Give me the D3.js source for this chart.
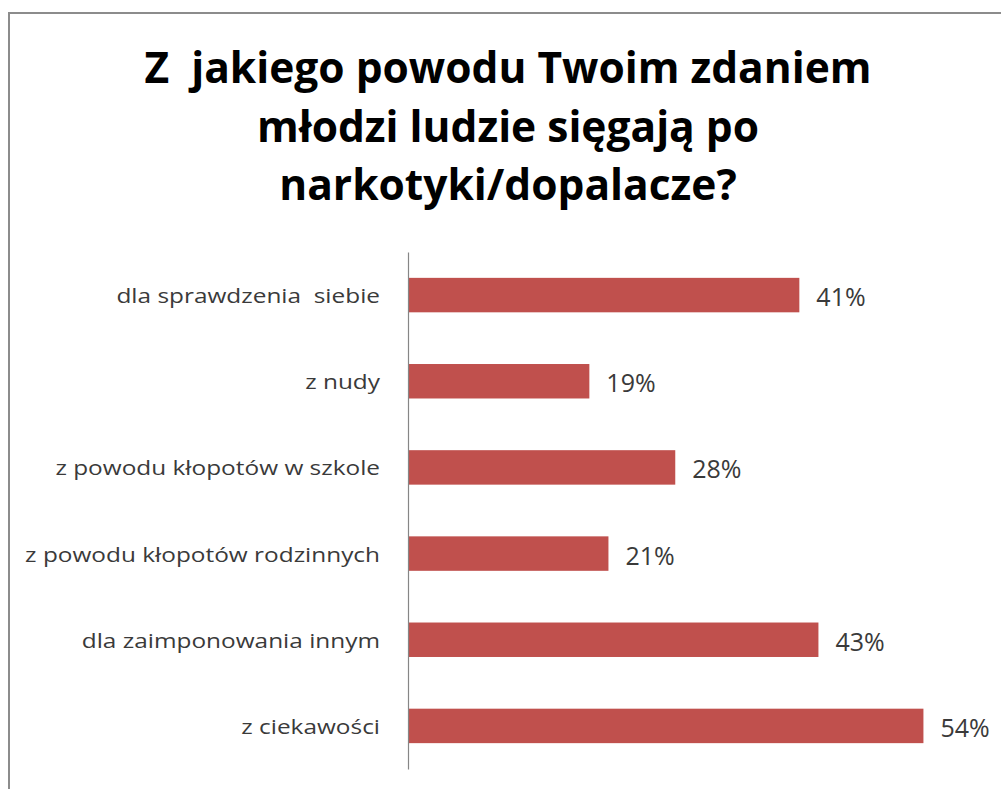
<!DOCTYPE html>
<html>
<head>
<meta charset="utf-8">
<script src="https://cdn.jsdelivr.net/npm/d3@7"></script>
<style>
  body { margin: 0; background: #fff; }
  svg { display: block; }
</style>
</head>
<body>
<script>
var tytul = ["Z  jakiego powodu Twoim zdaniem", "młodzi ludzie sięgają po", "narkotyki/dopalacze?"];
var kategorie = ["dla sprawdzenia  siebie", "z nudy", "z powodu kłopotów w szkole",
                 "z powodu kłopotów rodzinnych", "dla zaimponowania innym", "z ciekawości"];
var wartosci = [0.41, 0.19, 0.28, 0.21, 0.43, 0.54];

var largura = 1001;
var altura = 789;

var svg = d3.select("body")
            .append("svg")
            .attr("width", largura)
            .attr("height", altura);

// ramka wykresu (tylko lewa i gorna krawedz widoczna)
svg.append("rect")
   .attr("x", 9)
   .attr("y", 13)
   .attr("width", 1100)
   .attr("height", 900)
   .attr("fill", "white")
   .attr("stroke", "#8c8c8c")
   .attr("stroke-width", 2);

svg.append("g")
   .selectAll("text")
   .data(tytul)
   .enter()
   .append("text")
   .attr("x", 508)
   .attr("y", function(d, i) { return 83 + i * 58.5; })
   .attr("text-anchor", "middle")
   .attr("font-family", "'Open Sans', sans-serif")
   .attr("font-weight", "bold")
   .attr("font-size", 42.5)
   .attr("fill", "#000")
   .style("white-space", "pre")
   .text(function(d) { return d; });

var x = d3.scaleLinear()
          .domain([0, 0.6])
          .range([408, 980.7]);

var y = d3.scaleBand()
          .domain(kategorie)
          .range([252, 769])
          .paddingInner(0.6)
          .paddingOuter(0.3);

var grupa = svg.append("g");

grupa.selectAll("rect.bar")
     .data(wartosci)
     .enter()
     .append("rect")
     .attr("class", "bar")
     .attr("x", x(0))
     .attr("y", function(d, i) { return y(kategorie[i]); })
     .attr("width", function(d) { return x(d) - x(0); })
     .attr("height", y.bandwidth())
     .attr("fill", "#c0504d");

// etykiety kategorii - rozciagniete w poziomie jak w oryginale
grupa.selectAll("text.rot")
     .data(kategorie)
     .enter()
     .append("text")
     .attr("class", "rot")
     .attr("transform", function(d) {
       return "translate(380," + (y(d) + y.bandwidth() / 2 + 8) + ") scale(1.22,1)";
     })
     .attr("text-anchor", "end")
     .attr("font-family", "'Open Sans', sans-serif")
     .attr("font-size", 20)
     .attr("fill", "#3a3a3a")
     .style("white-space", "pre")
     .text(function(d) { return d; });

grupa.selectAll("text.wart")
     .data(wartosci)
     .enter()
     .append("text")
     .attr("class", "wart")
     .attr("x", function(d) { return x(d) + 17; })
     .attr("y", function(d, i) { return y(kategorie[i]) + y.bandwidth() / 2 + 11; })
     .attr("font-family", "'Open Sans', sans-serif")
     .attr("font-size", 25)
     .attr("fill", "#3a3a3a")
     .text(function(d) { return d3.format(".0%")(d); });

// os kategorii
var os = svg.append("g")
            .attr("transform", "translate(" + x(0) + ",0)")
            .call(d3.axisLeft(y).tickSize(0).tickFormat(""));
os.select(".domain").attr("stroke", "#868686").attr("stroke-width", 1.2);
</script>
</body>
</html>
